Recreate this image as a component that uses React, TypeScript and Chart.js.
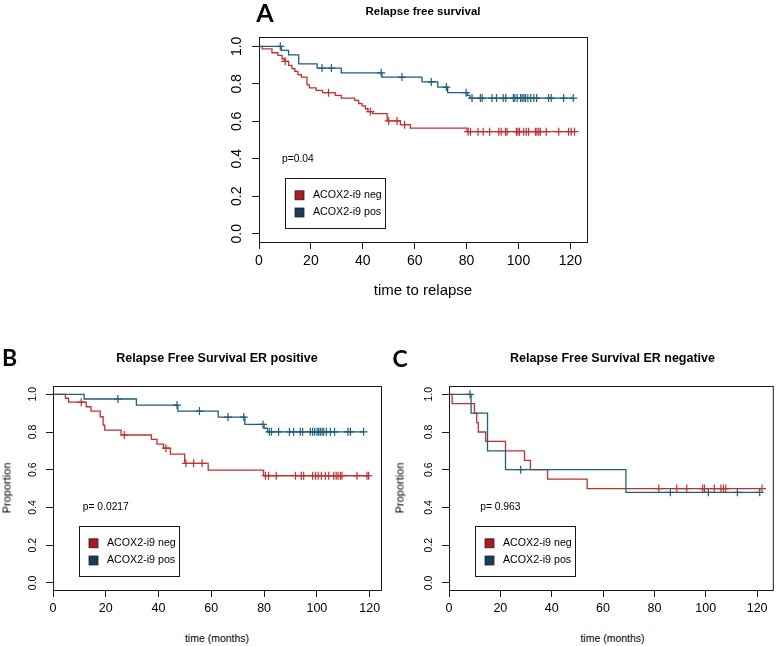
import React, { useEffect, useRef } from "react";
import { Chart, registerables } from "chart.js";

Chart.register(...registerables);

const FONT = '"Liberation Sans", Arial, Helvetica, sans-serif';
const RED_LINE = "#C62F2E";
const BLUE_LINE = "#1E5E7E";
const RED_FILL = "#B0191D";
const BLUE_FILL = "#173D5B";

// ---- shared ticks / labels ----
const xTicks = [0, 20, 40, 60, 80, 100, 120];
const yTicks = [0, 0.2, 0.4, 0.6, 0.8, 1.0];
const legendLabels = ["ACOX2-i9 neg", "ACOX2-i9 pos"];

// ---- Panel A: Relapse free survival ----
const aNegTimes = [0, 1.2, 5.0, 7.3, 8.9, 9.8, 11.4, 12.7, 13.8, 15.0, 16.3, 18.5, 19.4, 22.0, 24.5, 29.4, 31.7, 36.9, 38.4, 39.7, 41.0, 42.0, 43.8, 49.4, 54.5, 58.3, 80.2];
const aNegSurv = [1, 0.987, 0.966, 0.952, 0.934, 0.92, 0.899, 0.881, 0.867, 0.849, 0.836, 0.795, 0.778, 0.765, 0.753, 0.739, 0.724, 0.712, 0.694, 0.682, 0.667, 0.652, 0.641, 0.602, 0.582, 0.564, 0.545];
const aNegCensor = [10.1, 26.8, 42.9, 50.0, 53.2, 56.1, 80.6, 81.5, 84.4, 86.4, 88.9, 92.4, 93.3, 95.0, 95.6, 99.2, 99.8, 100.4, 102.0, 103.0, 103.9, 106.5, 107.1, 107.8, 108.4, 110.7, 115.5, 119.3, 120.3, 121.6];
const aPosTimes = [0, 8.6, 11.4, 15.3, 22.4, 31.7, 47.4, 62.8, 68.9, 72.7, 80.3, 81.3];
const aPosSurv = [1, 0.979, 0.955, 0.907, 0.884, 0.859, 0.836, 0.81, 0.783, 0.753, 0.738, 0.724];
const aPosCensor = [8.2, 24.3, 27.9, 47.1, 55.1, 66.4, 72.2, 79.8, 82.1, 85.3, 86.0, 89.8, 91.5, 94.1, 95.1, 98.0, 98.6, 99.5, 100.8, 101.4, 102.1, 102.7, 103.6, 104.7, 105.9, 107.0, 111.6, 112.6, 117.4, 121.1];

// ---- Panel B: ER positive ----
const bNegTimes = [0, 4.7, 5.9, 12.6, 14.4, 17.9, 19.0, 19.6, 25.8, 37.3, 39.4, 41.9, 44.5, 49.9, 58.8, 79.8];
const bNegSurv = [1, 0.979, 0.958, 0.934, 0.911, 0.881, 0.837, 0.81, 0.784, 0.761, 0.736, 0.714, 0.683, 0.634, 0.598, 0.568];
const bNegCensor = [10.7, 27.0, 42.8, 50.4, 53.3, 56.5, 80.5, 81.7, 84.6, 91.9, 94.1, 95.0, 98.4, 99.5, 100.5, 101.7, 103.2, 104.5, 106.4, 107.3, 108.0, 108.9, 109.5, 115.2, 119.0, 119.6];
const bPosTimes = [0, 11.8, 31.6, 47.3, 62.6, 72.7, 80.0, 81.3];
const bPosSurv = [1, 0.975, 0.943, 0.911, 0.879, 0.84, 0.82, 0.801];
const bPosCensor = [24.6, 47.0, 55.5, 66.3, 72.3, 79.6, 82.0, 82.8, 85.5, 89.6, 91.2, 93.7, 94.6, 97.5, 98.4, 99.2, 100.1, 100.7, 101.3, 102.0, 102.6, 103.6, 105.1, 106.7, 111.8, 112.7, 117.7];

// ---- Panel C: ER negative ----
const cNegTimes = [0, 1.2, 9.9, 10.8, 11.4, 14.3, 22.0, 29.4, 31.7, 38.4, 53.8];
const cNegSurv = [1, 0.95, 0.9, 0.85, 0.8, 0.75, 0.7, 0.65, 0.6, 0.55, 0.5];
const cNegCensor = [81.7, 88.7, 92.6, 98.8, 99.5, 103.3, 105.9, 106.9, 107.8, 121.9];
const cPosTimes = [0, 8.6, 15.0, 22.0, 68.9];
const cPosSurv = [1, 0.9, 0.7, 0.6, 0.48];
const cPosCensor = [8.2, 27.9, 86.2, 101.0, 112.3, 121.0];

type Panel = {
  canvas: { left: number; top: number; width: number; height: number };
  area: { left: number; top: number; right: number; bottom: number };
  xMax: number;
  yMin: number;
  yMax: number;
  negTimes: number[];
  negSurv: number[];
  negCensor: number[];
  posTimes: number[];
  posSurv: number[];
  posCensor: number[];
  xTickSize: number;
  xTickPad: number;
  yTickSize: number;
  yLabelOffset: number;
  pText: string;
  pX: number;
  pY: number;
  legendX: number;
  legendY: number;
};

const panels: Panel[] = [
  {
    canvas: { left: 200, top: 20, width: 400, height: 290 },
    area: { left: 59, top: 17, right: 387, bottom: 222 },
    xMax: 126.4, yMin: -0.044, yMax: 1.05,
    negTimes: aNegTimes, negSurv: aNegSurv, negCensor: aNegCensor,
    posTimes: aPosTimes, posSurv: aPosSurv, posCensor: aPosCensor,
    xTickSize: 14, xTickPad: 4, yTickSize: 14, yLabelOffset: 21.5,
    pText: "p=0.04", pX: 15, pY: 0.4, legendX: 10, legendY: 0.3,
  },
  {
    canvas: { left: 0, top: 370, width: 390, height: 250 },
    area: { left: 53, top: 16, right: 381, bottom: 220 },
    xMax: 124.3, yMin: -0.038, yMax: 1.044,
    negTimes: bNegTimes, negSurv: bNegSurv, negCensor: bNegCensor,
    posTimes: bPosTimes, posSurv: bPosSurv, posCensor: bPosCensor,
    xTickSize: 12.5, xTickPad: 4.5, yTickSize: 10.5, yLabelOffset: 20,
    pText: "p= 0.0217", pX: 20, pY: 0.4, legendX: 10, legendY: 0.3,
  },
  {
    canvas: { left: 390, top: 370, width: 388, height: 250 },
    area: { left: 59, top: 16, right: 386, bottom: 220 },
    xMax: 126.1, yMin: -0.038, yMax: 1.044,
    negTimes: cNegTimes, negSurv: cNegSurv, negCensor: cNegCensor,
    posTimes: cPosTimes, posSurv: cPosSurv, posCensor: cPosCensor,
    xTickSize: 12.5, xTickPad: 4.5, yTickSize: 10.5, yLabelOffset: 20,
    pText: "p= 0.963", pX: 20, pY: 0.4, legendX: 10, legendY: 0.3,
  },
];

function levelAt(times: number[], surv: number[], t: number): number {
  let v = surv[0];
  for (let i = 0; i < times.length; i++) {
    if (times[i] <= t) v = surv[i];
  }
  return v;
}

function stepDataset(times: number[], surv: number[], censor: number[], color: string, order: number) {
  const pts = times.map((t, i) => ({ x: t, y: surv[i] }));
  const end = Math.max(times[times.length - 1], ...censor);
  pts.push({ x: end, y: surv[surv.length - 1] });
  return {
    type: "line" as const,
    data: pts,
    borderColor: color,
    backgroundColor: color,
    borderWidth: 1.3,
    pointRadius: 0,
    stepped: "before" as const,
    fill: false,
    tension: 0,
    order,
  };
}

function censorDataset(times: number[], surv: number[], censor: number[], color: string, order: number) {
  return {
    type: "line" as const,
    data: censor.map((t) => ({ x: t, y: levelAt(times, surv, t) })),
    showLine: false,
    borderColor: color,
    backgroundColor: color,
    pointStyle: "cross" as const,
    pointRadius: 4,
    pointBorderWidth: 1.2,
    pointBorderColor: color,
    order,
  };
}

function KMChart({ p }: { p: Panel }) {
  const ref = useRef<HTMLCanvasElement>(null);
  useEffect(() => {
    const canvas = ref.current;
    if (!canvas) return;
    const decor = {
      id: "decor",
      afterDraw(chart: any) {
        const { ctx, chartArea } = chart;
        const xs = chart.scales.x;
        const ys = chart.scales.y;
        ctx.save();
        // box
        ctx.strokeStyle = "#1a1a1a";
        ctx.lineWidth = 1;
        ctx.strokeRect(chartArea.left + 0.5, chartArea.top + 0.5, chartArea.right - chartArea.left, chartArea.bottom - chartArea.top);
        // y tick labels (rotated, R style)
        ctx.fillStyle = "#000";
        ctx.font = `${p.yTickSize}px ${FONT}`;
        ctx.textAlign = "center";
        ctx.textBaseline = "middle";
        for (const v of yTicks) {
          const py = ys.getPixelForValue(v);
          ctx.save();
          ctx.translate(chartArea.left - p.yLabelOffset, py);
          ctx.rotate(-Math.PI / 2);
          ctx.fillText(v.toFixed(1), 0, 0);
          ctx.restore();
        }
        // p value
        ctx.font = `10.3px ${FONT}`;
        ctx.fillText(p.pText, xs.getPixelForValue(p.pX), ys.getPixelForValue(p.pY));
        // legend
        const lx = Math.round(xs.getPixelForValue(p.legendX)) + 0.5;
        const ly = Math.round(ys.getPixelForValue(p.legendY)) + 0.5;
        ctx.font = `10.7px ${FONT}`;
        const tw = Math.max(...legendLabels.map((l) => ctx.measureText(l).width));
        const w = Math.round(27.4 + tw + 3.5);
        const h = 50;
        ctx.fillStyle = "#fff";
        ctx.fillRect(lx, ly, w, h);
        ctx.strokeStyle = "#1a1a1a";
        ctx.strokeRect(lx, ly, w, h);
        const fills = [RED_FILL, BLUE_FILL];
        legendLabels.forEach((lab, i) => {
          const cy = ly + 16.8 + i * 17.2;
          ctx.fillStyle = fills[i];
          ctx.fillRect(lx + 9.5, cy - 4.5, 9, 9);
          ctx.strokeStyle = "#222";
          ctx.lineWidth = 0.8;
          ctx.strokeRect(lx + 9.5, cy - 4.5, 9, 9);
          ctx.fillStyle = "#000";
          ctx.textAlign = "left";
          ctx.fillText(lab, lx + 27.4, cy);
        });
        ctx.restore();
      },
    };
    const gridOpts = {
      display: true,
      drawOnChartArea: false,
      drawTicks: true,
      tickLength: 7,
      color: "#1a1a1a",
      lineWidth: 1,
    };
    const chart = new Chart(canvas, {
      type: "line",
      data: {
        datasets: [
          censorDataset(p.posTimes, p.posSurv, p.posCensor, BLUE_LINE, 1),
          stepDataset(p.posTimes, p.posSurv, p.posCensor, BLUE_LINE, 2),
          censorDataset(p.negTimes, p.negSurv, p.negCensor, RED_LINE, 3),
          stepDataset(p.negTimes, p.negSurv, p.negCensor, RED_LINE, 4),
        ] as any,
      },
      options: {
        animation: false,
        responsive: false,
        maintainAspectRatio: false,
        events: [],
        layout: {
          padding: {
            left: 0,
            top: p.area.top,
            right: p.canvas.width - p.area.right,
            bottom: 0,
          },
        },
        plugins: {
          legend: { display: false },
          tooltip: { enabled: false },
          title: { display: false },
        },
        scales: {
          x: {
            type: "linear",
            min: 0,
            max: p.xMax,
            afterBuildTicks: (s: any) => {
              s.ticks = xTicks.map((v) => ({ value: v }));
            },
            afterFit: (s: any) => {
              s.height = p.canvas.height - p.area.bottom;
            },
            grid: gridOpts,
            border: { display: true, color: "#1a1a1a", width: 1 },
            ticks: {
              color: "#000",
              font: { family: FONT, size: p.xTickSize },
              padding: p.xTickPad,
              maxRotation: 0,
              minRotation: 0,
              autoSkip: false,
              callback: (v: any) => String(v),
            },
          },
          y: {
            type: "linear",
            min: p.yMin,
            max: p.yMax,
            afterBuildTicks: (s: any) => {
              s.ticks = yTicks.map((v) => ({ value: v }));
            },
            afterFit: (s: any) => {
              s.width = p.area.left;
            },
            grid: gridOpts,
            border: { display: true, color: "#1a1a1a", width: 1 },
            ticks: { display: false },
          },
        },
      } as any,
      plugins: [decor],
    });
    return () => chart.destroy();
  }, [p]);
  return (
    <canvas
      ref={ref}
      width={p.canvas.width}
      height={p.canvas.height}
      style={{
        position: "absolute",
        left: p.canvas.left,
        top: p.canvas.top,
        width: p.canvas.width,
        height: p.canvas.height,
        display: "block",
      }}
    />
  );
}

function Label({
  text, cx, cy, size, bold, family, rotate,
}: { text: string; cx: number; cy: number; size: number; bold?: boolean; family?: string; rotate?: boolean }) {
  return (
    <div
      style={{
        position: "absolute",
        left: cx,
        top: cy,
        transform: `translate(-50%, -50%)${rotate ? " rotate(-90deg)" : ""}`,
        fontFamily: family || FONT,
        fontSize: size,
        fontWeight: bold ? 700 : 400,
        lineHeight: 1,
        whiteSpace: "nowrap",
        color: "#000",
      }}
    >
      {text}
    </div>
  );
}

export default function App() {
  return (
    <div
      style={{
        position: "absolute",
        left: 0,
        top: 0,
        width: 778,
        height: 646,
        background: "#fff",
        overflow: "hidden",
      }}
    >
      {panels.map((p, i) => (
        <KMChart key={i} p={p} />
      ))}
      <Label text="A" cx={265} cy={12} size={25} bold family="Lato, 'Open Sans', sans-serif" />
      <Label text="Relapse free survival" cx={423} cy={12} size={11.5} bold />
      <Label text="time to relapse" cx={423} cy={289} size={15} />

      <Label text="B" cx={9.5} cy={356.5} size={23} bold family="Lato, 'Open Sans', sans-serif" />
      <Label text="Relapse Free Survival ER positive" cx={217} cy={358.3} size={12.5} bold />
      <Label text="time (months)" cx={217} cy={638} size={10.5} />
      <Label text="Proportion" cx={7} cy={488} size={11} rotate />

      <Label text="C" cx={400} cy={358} size={23} bold family="Lato, 'Open Sans', sans-serif" />
      <Label text="Relapse Free Survival ER negative" cx={612.5} cy={358.3} size={12.5} bold />
      <Label text="time (months)" cx={612.5} cy={638} size={10.5} />
      <Label text="Proportion" cx={400} cy={488} size={11} rotate />
    </div>
  );
}
